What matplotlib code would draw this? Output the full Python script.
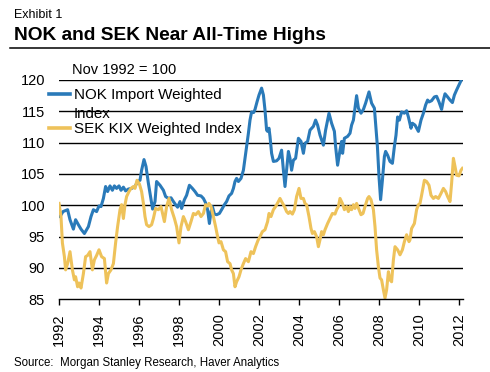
import matplotlib
matplotlib.use('Agg')
import matplotlib.pyplot as plt
from matplotlib.lines import Line2D

plt.rcParams['font.family'] = ['Liberation Sans', 'DejaVu Sans']

# NOK Import Weighted Index (Nov 1992 = 100)
nok_years = [1992.05, 1992.2, 1992.43, 1992.55, 1992.72, 1992.83, 1992.97, 1993.1,
             1993.27, 1993.47, 1993.6, 1993.72, 1993.88, 1994.0, 1994.1, 1994.22,
             1994.33, 1994.43, 1994.55, 1994.67, 1994.77, 1994.88, 1995.0, 1995.1,
             1995.22, 1995.33, 1995.47, 1995.63, 1995.8, 1995.93, 1996.05, 1996.13,
             1996.25, 1996.35, 1996.47, 1996.6, 1996.68, 1996.8, 1996.88, 1997.05,
             1997.22, 1997.33, 1997.47, 1997.6, 1997.72, 1997.83, 1997.93, 1998.05,
             1998.13, 1998.27, 1998.38, 1998.52, 1998.67, 1998.8, 1998.93, 1999.1,
             1999.22, 1999.33, 1999.43, 1999.52, 1999.6, 1999.67, 1999.77, 1999.88,
             2000.02, 2000.13, 2000.27, 2000.38, 2000.5, 2000.63, 2000.72, 2000.8,
             2000.88, 2000.97, 2001.1, 2001.22, 2001.3, 2001.38, 2001.47, 2001.55,
             2001.63, 2001.73, 2001.8, 2001.9, 2002.0, 2002.13, 2002.22, 2002.3,
             2002.38, 2002.43, 2002.5, 2002.55, 2002.63, 2002.72, 2002.88, 2003.0,
             2003.13, 2003.22, 2003.3, 2003.38, 2003.47, 2003.55, 2003.63, 2003.72,
             2003.83, 2003.97, 2004.1, 2004.22, 2004.3, 2004.43, 2004.55, 2004.72,
             2004.83, 2004.93, 2005.05, 2005.22, 2005.33, 2005.5, 2005.63, 2005.77,
             2005.83, 2005.93, 2006.05, 2006.13, 2006.18, 2006.27, 2006.43, 2006.55,
             2006.63, 2006.72, 2006.8, 2006.88, 2006.97, 2007.1, 2007.22, 2007.33,
             2007.5, 2007.63, 2007.77, 2007.83, 2007.92, 2008.0, 2008.08, 2008.17,
             2008.27, 2008.33, 2008.43, 2008.55, 2008.67, 2008.77, 2008.85, 2008.93,
             2009.02, 2009.13, 2009.27, 2009.38, 2009.47, 2009.6, 2009.67, 2009.8,
             2009.97, 2010.1, 2010.22, 2010.33, 2010.43, 2010.5, 2010.63, 2010.77,
             2010.88, 2011.0, 2011.13, 2011.22, 2011.3, 2011.43, 2011.55, 2011.67,
             2011.77, 2011.88, 2012.0, 2012.13]
nok_values = [98.2, 99.0, 99.3, 97.7, 96.2, 97.7, 96.9, 96.2,
              95.5, 96.6, 98.2, 99.3, 99.0, 99.9, 99.8, 101.1,
              103.0, 102.2, 103.1, 102.4, 103.1, 102.7, 103.1, 102.4,
              102.9, 102.3, 102.6, 102.7, 103.0, 103.8, 104.0, 105.6,
              107.3, 106.2, 103.5, 100.9, 99.4, 100.6, 103.8, 103.2,
              102.4, 101.4, 101.1, 101.2, 100.6, 100.1, 99.7, 100.6,
              99.5, 100.9, 101.6, 103.2, 102.7, 102.2, 101.6, 101.5,
              101.1, 100.4, 99.3, 97.1, 99.0, 99.8, 98.6, 98.5,
              98.7, 99.3, 100.1, 100.6, 101.5, 101.9, 102.7, 103.8,
              104.3, 103.8, 104.3, 105.6, 107.5, 109.4, 111.5, 113.6,
              114.9, 114.8, 115.3, 116.5, 117.6, 118.7, 117.6, 115.2,
              112.0, 111.8, 112.3, 111.0, 108.3, 107.0, 107.1, 107.5,
              108.8, 105.6, 103.0, 105.6, 108.6, 107.5, 105.6, 107.2,
              107.5, 110.7, 110.2, 108.3, 109.9, 110.2, 112.0, 112.6,
              113.6, 112.8, 111.2, 109.6, 112.0, 114.7, 113.1, 111.8,
              109.4, 106.4, 108.8, 110.2, 108.3, 110.7, 111.0, 111.5,
              112.8, 113.6, 115.5, 117.5, 115.5, 114.7, 115.3, 116.3,
              118.1, 116.3, 115.5, 113.1, 109.4, 104.6, 100.9, 104.0,
              107.8, 108.6, 108.0, 107.0, 106.7, 109.4, 111.2, 114.1,
              113.6, 114.9, 114.7, 115.1, 114.1, 112.3, 113.1, 112.8,
              111.8, 113.6, 114.7, 116.0, 116.8, 116.5, 116.7, 117.3,
              117.4, 116.5, 115.3, 116.8, 117.8, 117.3, 116.8, 116.4,
              117.6, 118.4, 119.2, 120.1]

# SEK KIX Weighted Index (Nov 1992 = 100)
sek_years = [1992.0, 1992.1, 1992.17, 1992.27, 1992.33, 1992.43, 1992.55, 1992.67,
             1992.77, 1992.83, 1992.93, 1993.0, 1993.1, 1993.22, 1993.33, 1993.43,
             1993.55, 1993.67, 1993.77, 1993.88, 1994.0, 1994.13, 1994.27, 1994.38,
             1994.47, 1994.6, 1994.72, 1994.83, 1994.93, 1995.05, 1995.13, 1995.22,
             1995.3, 1995.38, 1995.5, 1995.6, 1995.72, 1995.8, 1995.9, 1996.02,
             1996.13, 1996.22, 1996.3, 1996.38, 1996.5, 1996.63, 1996.72, 1996.83,
             1996.97, 1997.1, 1997.27, 1997.38, 1997.5, 1997.63, 1997.77, 1997.88,
             1998.0, 1998.1, 1998.22, 1998.33, 1998.47, 1998.6, 1998.72, 1998.83,
             1998.97, 1999.1, 1999.22, 1999.33, 1999.43, 1999.5, 1999.6, 1999.72,
             1999.83, 1999.93, 2000.0, 2000.1, 2000.22, 2000.33, 2000.43, 2000.55,
             2000.63, 2000.72, 2000.8, 2000.88, 2001.0, 2001.1, 2001.22, 2001.33,
             2001.47, 2001.6, 2001.72, 2001.83, 2001.95, 2002.05, 2002.17, 2002.3,
             2002.43, 2002.5, 2002.6, 2002.72, 2002.83, 2002.97, 2003.05, 2003.13,
             2003.27, 2003.38, 2003.47, 2003.55, 2003.67, 2003.77, 2003.88, 2004.0,
             2004.1, 2004.22, 2004.3, 2004.38, 2004.5, 2004.6, 2004.67, 2004.77,
             2004.88, 2004.97, 2005.05, 2005.13, 2005.22, 2005.3, 2005.43, 2005.55,
             2005.67, 2005.8, 2005.88, 2005.97, 2006.05, 2006.17, 2006.27, 2006.38,
             2006.47, 2006.55, 2006.63, 2006.72, 2006.8, 2006.88, 2007.0, 2007.1,
             2007.2, 2007.3, 2007.43, 2007.5, 2007.6, 2007.72, 2007.8, 2007.88,
             2007.97, 2008.05, 2008.13, 2008.22, 2008.3, 2008.38, 2008.47, 2008.55,
             2008.63, 2008.72, 2008.8, 2008.93, 2009.05, 2009.17, 2009.27, 2009.38,
             2009.5, 2009.55, 2009.63, 2009.77, 2009.88, 2009.97, 2010.05, 2010.13,
             2010.27, 2010.38, 2010.5, 2010.6, 2010.72, 2010.83, 2010.97, 2011.1,
             2011.22, 2011.33, 2011.43, 2011.55, 2011.63, 2011.72, 2011.8, 2011.88,
             2012.0, 2012.1, 2012.17]
sek_values = [100.3, 98.2, 94.0, 91.8, 89.7, 90.7, 92.6, 89.7,
              88.1, 88.6, 87.0, 87.6, 86.8, 89.1, 91.8, 92.0,
              92.6, 89.7, 91.3, 92.0, 92.9, 91.8, 91.5, 87.6,
              89.1, 89.7, 90.7, 94.0, 96.6, 99.3, 100.1, 97.9,
              100.1, 101.4, 102.2, 102.7, 103.0, 102.7, 104.0, 103.4,
              102.2, 100.3, 98.2, 96.9, 96.6, 96.9, 97.9, 99.5,
              99.3, 99.8, 97.4, 99.8, 101.1, 99.3, 97.9, 96.6,
              94.0, 96.6, 98.2, 97.4, 96.1, 97.4, 98.7, 98.5,
              99.0, 98.2, 98.7, 100.1, 99.9, 100.3, 99.8, 98.2,
              96.6, 95.0, 94.0, 94.2, 92.9, 92.6, 91.0, 90.7,
              89.7, 89.1, 87.0, 87.8, 88.6, 89.7, 90.7, 91.5,
              91.0, 92.6, 92.3, 93.4, 94.4, 95.0, 95.8, 96.1,
              97.4, 98.7, 98.2, 99.3, 99.8, 100.6, 101.1, 100.6,
              99.8, 99.0, 98.7, 99.0, 98.6, 99.3, 101.4, 102.7,
              101.1, 101.1, 100.3, 100.1, 98.2, 96.3, 95.5, 95.8,
              95.0, 93.4, 94.5, 95.8, 95.3, 96.1, 97.1, 97.9,
              98.7, 98.6, 99.3, 99.8, 101.1, 100.3, 99.3, 99.8,
              99.0, 99.8, 99.3, 100.1, 99.5, 100.3, 99.3, 98.5,
              98.7, 99.8, 101.1, 101.4, 100.9, 99.3, 96.6, 92.9,
              90.2, 88.4, 88.1, 86.5, 85.2, 86.5, 89.4, 88.1,
              87.8, 91.3, 93.4, 92.9, 92.1, 92.9, 94.2, 95.3,
              94.2, 94.5, 96.3, 97.1, 99.3, 100.1, 100.3, 101.6,
              104.0, 103.8, 103.2, 101.6, 101.1, 101.4, 101.1, 101.9,
              102.7, 102.2, 101.4, 100.6, 103.5, 107.5, 106.2, 104.8,
              104.7, 105.6, 105.9]

yticks = [85, 90, 95, 100, 105, 110, 115, 120]
xticks = list(range(1992, 2013, 2))

W, H = 490, 372
blue = '#2a7ab9'
gold = '#eec25a'

fig = plt.figure(figsize=(W / 100, H / 100), dpi=100)
ax = fig.add_axes([59 / W, 1 - 299.3 / H, (463 - 59) / W, (299.3 - 80) / H])

ax.plot(nok_years, nok_values, color=blue, lw=2.2, solid_joinstyle='round')
ax.plot(sek_years, sek_values, color=gold, lw=2.2, solid_joinstyle='round')

ax.set_xlim(1992, 2012.2)
ax.set_ylim(85, 120)
ax.set_yticks(yticks)
ax.set_xticks(xticks)
ax.set_xticklabels([str(x) for x in xticks], rotation=90)
for y in yticks[1:]:
    ax.axhline(y, color='black', lw=1.0, zorder=0.5)
for s in ['top', 'right', 'left']:
    ax.spines[s].set_visible(False)
ax.spines['bottom'].set_linewidth(1.0)
ax.tick_params(axis='y', length=0, pad=10, labelsize=10.5)
ax.tick_params(axis='x', direction='out', length=4, width=1.0, pad=6, labelsize=10.5)

def px(x, y):
    return x / W, 1 - y / H

fig.text(*px(14, 18.3), 'Exhibit 1', fontsize=9, va='baseline')
fig.text(*px(14, 40), 'NOK and SEK Near All-Time Highs', fontsize=13.75,
         fontweight='bold', va='baseline')
fig.add_artist(Line2D([10 / W, 1], [1 - 48.3 / H] * 2, color='black', lw=1.1,
                      transform=fig.transFigure))
fig.text(*px(71.5, 74), 'Nov 1992 = 100', fontsize=10.5, va='baseline')

# legend
fig.add_artist(Line2D([49 / W, 70 / W], [1 - 94.3 / H] * 2, color=blue, lw=2.6,
                      transform=fig.transFigure))
fig.text(*px(74, 99.3), 'NOK Import Weighted', fontsize=10.9, va='baseline')
fig.text(*px(74, 118), 'Index', fontsize=10.9, va='baseline')
fig.add_artist(Line2D([49 / W, 70 / W], [1 - 128.3 / H] * 2, color=gold, lw=2.6,
                      transform=fig.transFigure))
fig.text(*px(74, 132.7), 'SEK KIX Weighted Index', fontsize=10.9, va='baseline')

fig.text(*px(14, 366), 'Source:  Morgan Stanley Research, Haver Analytics',
         fontsize=8.3, va='baseline')

fig.savefig('out.png', dpi=100)
